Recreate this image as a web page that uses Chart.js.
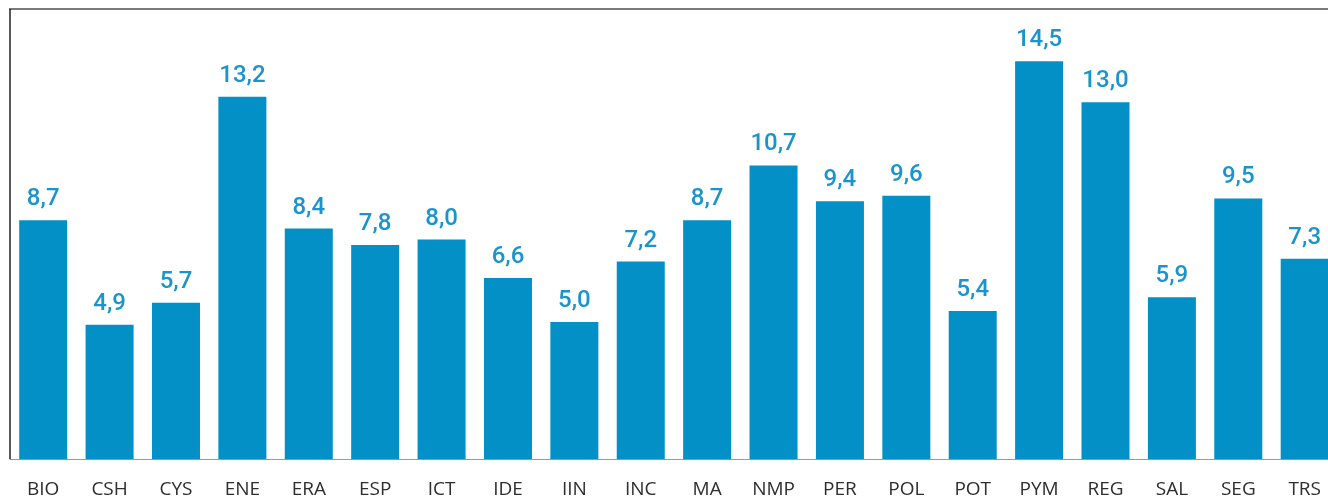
<!DOCTYPE html>
<html>
<head>
<meta charset="utf-8">
<script src="https://cdn.jsdelivr.net/npm/chart.js@4/dist/chart.umd.min.js"></script>
<style>
  html, body { margin: 0; padding: 0; background: #ffffff; overflow: hidden; }
  #wrap { width: 1340px; height: 497px; overflow: hidden; }
</style>
</head>
<body>
<div id="wrap"><canvas id="c" width="1340" height="520"></canvas></div>
<script>
// Area codes along the horizontal axis
const categories = ['BIO','CSH','CYS','ENE','ERA','ESP','ICT','IDE','IIN','INC','MA','NMP','PER','POL','POT','PYM','REG','SAL','SEG','TRS'];
// One value per area
const values = [8.7, 4.9, 5.7, 13.2, 8.4, 7.8, 8.0, 6.6, 5.0, 7.2, 8.7, 10.7, 9.4, 9.6, 5.4, 14.5, 13.0, 5.9, 9.5, 7.3];

const BAR = '#0290c6';
const LABEL = '#1a94cc';

const fmt = v => v.toFixed(1).replace('.', ',');

// Draws the value above every bar, using the positions the bar elements got from the scales
const valueLabels = {
  id: 'valueLabels',
  afterDatasetsDraw(chart) {
    const ctx = chart.ctx;
    const meta = chart.getDatasetMeta(0);
    ctx.save();
    ctx.fillStyle = LABEL;
    ctx.font = '500 24px Roboto';
    ctx.textAlign = 'center';
    ctx.textBaseline = 'bottom';
    meta.data.forEach((el, i) => {
      ctx.fillText(fmt(values[i]), el.x, el.y - 9);
    });
    ctx.restore();
  }
};

// Frame lines along the top and left edges of the plot area
const frame = {
  id: 'frame',
  afterDraw(chart) {
    const { ctx, chartArea } = chart;
    ctx.save();
    ctx.strokeStyle = '#7a7a7a';
    ctx.lineWidth = 2;
    ctx.beginPath();
    ctx.moveTo(chartArea.left - 1, chartArea.top);
    ctx.lineTo(chart.width, chartArea.top);
    ctx.stroke();
    ctx.strokeStyle = '#222222';
    ctx.lineWidth = 1.5;
    ctx.beginPath();
    ctx.moveTo(chartArea.left, chartArea.top);
    ctx.lineTo(chartArea.left, chartArea.bottom);
    ctx.stroke();
    ctx.restore();
  }
};

new Chart(document.getElementById('c'), {
  type: 'bar',
  data: {
    labels: categories,
    datasets: [{
      data: values,
      backgroundColor: BAR,
      borderWidth: 0,
      barPercentage: 0.723,
      categoryPercentage: 1.0
    }]
  },
  options: {
    responsive: false,
    animation: false,
    layout: { padding: { left: 10, top: 9, right: 0, bottom: 0 } },
    plugins: { legend: { display: false }, tooltip: { enabled: false } },
    scales: {
      x: {
        grid: { display: false, drawTicks: false },
        border: { display: true, color: '#9a9a9a', width: 1 },
        ticks: {
          color: '#2e2e2e',
          font: { family: 'Open Sans', size: 19 },
          padding: 19,
          maxRotation: 0,
          autoSkip: false
        }
      },
      y: {
        display: false,
        min: 0,
        max: 16.4
      }
    }
  },
  plugins: [valueLabels, frame]
});
</script>
</body>
</html>
